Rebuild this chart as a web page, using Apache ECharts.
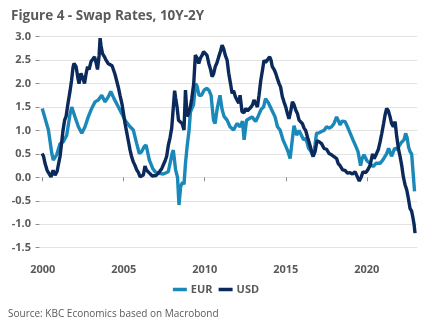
<!DOCTYPE html>
<html>
<head>
<meta charset="utf-8">
<script src="https://cdn.jsdelivr.net/npm/echarts@6/dist/echarts.min.js"></script>
<style>
  html, body { margin: 0; padding: 0; background: #ffffff; }
  #chart { width: 432px; height: 334px; }
</style>
</head>
<body>
<div id="chart"></div>
<script>
// 10Y-2Y swap spread, EUR and USD (percentage points), dated by decimal year
const eurYears = [1999.97,2000.04,2000.35,2000.56,2000.65,2000.86,2001.07,2001.27,2001.48,2001.69,2001.79,2001.99,2002.20,2002.41,2002.61,2002.81,2003.02,2003.23,2003.43,2003.64,2003.85,2004.05,2004.20,2004.40,2004.67,2004.88,2005.08,2005.19,2005.39,2005.59,2005.80,2005.96,2006.11,2006.25,2006.38,2006.58,2006.79,2006.93,2007.14,2007.44,2007.75,2007.86,2007.98,2008.06,2008.20,2008.32,2008.41,2008.51,2008.63,2008.72,2008.81,2008.91,2009.03,2009.12,2009.31,2009.43,2009.52,2009.65,2009.80,2009.96,2010.14,2010.27,2010.39,2010.54,2010.64,2010.76,2010.94,2011.07,2011.19,2011.38,2011.56,2011.78,2011.99,2012.18,2012.33,2012.43,2012.58,2012.73,2012.92,2013.14,2013.29,2013.48,2013.63,2013.75,2013.91,2014.03,2014.19,2014.34,2014.49,2014.65,2014.83,2015.02,2015.14,2015.27,2015.42,2015.51,2015.67,2015.82,2015.94,2016.10,2016.25,2016.41,2016.56,2016.69,2016.81,2016.90,2017.06,2017.21,2017.36,2017.52,2017.67,2017.83,2017.98,2018.14,2018.26,2018.35,2018.48,2018.66,2018.81,2018.97,2019.15,2019.34,2019.46,2019.62,2019.71,2019.83,2020.02,2020.20,2020.39,2020.57,2020.82,2021.01,2021.22,2021.35,2021.53,2021.72,2021.87,2021.99,2022.15,2022.30,2022.40,2022.49,2022.58,2022.67,2022.77,2022.86,2022.95];
const eurValues = [1.47,1.47,1.01,0.51,0.37,0.48,0.72,0.76,0.90,1.36,1.50,1.29,1.08,0.94,1.08,1.29,1.47,1.61,1.65,1.75,1.61,1.72,1.83,1.68,1.50,1.36,1.22,1.26,1.08,1.01,0.72,0.51,0.55,0.65,0.69,0.37,0.19,0.12,0.09,0.07,0.12,0.12,0.50,0.58,0.16,0.00,-0.59,-0.20,-0.10,-0.15,0.30,0.65,1.00,1.40,1.55,2.00,1.95,1.75,1.75,1.86,1.90,1.85,1.75,1.22,1.15,1.45,1.75,1.45,1.30,1.22,1.08,1.01,1.15,1.08,1.20,0.80,1.22,1.25,1.29,1.19,1.30,1.45,1.50,1.68,1.60,1.58,1.40,1.29,1.08,1.01,0.80,0.65,0.55,0.40,0.85,1.10,0.90,1.00,1.04,0.80,0.83,0.62,0.55,0.44,0.70,0.94,0.95,0.98,1.00,1.08,1.05,1.08,1.15,1.29,1.20,1.12,1.20,1.19,1.08,0.95,0.80,0.65,0.55,0.25,0.40,0.48,0.35,0.30,0.23,0.30,0.30,0.38,0.50,0.62,0.45,0.62,0.60,0.58,0.75,0.80,0.94,0.85,0.65,0.55,0.50,0.10,-0.30];

const usdYears = [1999.96,2000.05,2000.14,2000.27,2000.39,2000.51,2000.64,2000.76,2000.88,2000.99,2001.07,2001.16,2001.25,2001.35,2001.44,2001.56,2001.69,2001.78,2001.87,2001.93,2002.06,2002.18,2002.24,2002.36,2002.49,2002.58,2002.67,2002.77,2002.86,2002.98,2003.10,2003.20,2003.29,2003.38,2003.48,2003.54,2003.60,2003.69,2003.81,2003.91,2004.03,2004.15,2004.28,2004.37,2004.46,2004.57,2004.68,2004.77,2004.90,2004.99,2005.08,2005.19,2005.30,2005.39,2005.48,2005.59,2005.70,2005.80,2005.91,2006.01,2006.11,2006.21,2006.31,2006.41,2006.52,2006.62,2006.75,2006.87,2006.99,2007.14,2007.24,2007.35,2007.46,2007.55,2007.65,2007.75,2007.86,2007.96,2008.04,2008.14,2008.20,2008.29,2008.38,2008.48,2008.60,2008.72,2008.81,2008.91,2009.00,2009.11,2009.20,2009.32,2009.42,2009.52,2009.63,2009.74,2009.83,2009.93,2010.04,2010.14,2010.25,2010.36,2010.45,2010.54,2010.65,2010.76,2010.86,2010.98,2011.07,2011.16,2011.27,2011.38,2011.48,2011.59,2011.69,2011.78,2011.89,2011.99,2012.10,2012.18,2012.30,2012.43,2012.53,2012.64,2012.73,2012.86,2012.95,2013.04,2013.14,2013.25,2013.35,2013.46,2013.57,2013.66,2013.75,2013.86,2014.01,2014.09,2014.17,2014.28,2014.38,2014.49,2014.59,2014.68,2014.79,2014.90,2015.00,2015.11,2015.20,2015.30,2015.41,2015.51,2015.62,2015.73,2015.82,2015.91,2016.02,2016.13,2016.23,2016.35,2016.44,2016.56,2016.69,2016.81,2016.93,2017.06,2017.21,2017.36,2017.52,2017.67,2017.83,2017.98,2018.14,2018.23,2018.35,2018.51,2018.66,2018.81,2018.97,2019.12,2019.28,2019.40,2019.54,2019.65,2019.77,2019.93,2020.06,2020.20,2020.36,2020.45,2020.57,2020.72,2020.82,2020.93,2021.04,2021.13,2021.23,2021.33,2021.44,2021.53,2021.64,2021.75,2021.85,2021.96,2022.06,2022.16,2022.26,2022.36,2022.47,2022.57,2022.67,2022.77,2022.84,2022.92,2022.98];
const usdValues = [0.51,0.45,0.30,0.15,0.08,0.01,0.15,0.05,0.12,0.09,0.45,0.72,1.00,1.22,1.30,1.58,1.85,2.07,2.35,2.43,2.36,2.10,2.00,2.22,2.10,2.00,2.20,2.36,2.30,2.47,2.45,2.57,2.45,2.30,2.60,2.97,2.80,2.64,2.57,2.50,2.43,2.47,2.38,2.36,2.20,2.05,1.90,1.75,1.55,1.35,1.15,0.95,0.75,0.58,0.45,0.33,0.25,0.16,0.10,0.01,-0.02,0.05,0.24,0.15,0.12,0.08,0.03,0.00,0.04,0.09,0.12,0.19,0.28,0.35,0.45,0.68,0.85,1.05,1.40,1.85,1.70,1.50,1.22,1.25,1.15,1.01,1.86,1.30,1.36,1.50,1.68,2.00,2.61,2.55,2.43,2.55,2.60,2.68,2.72,2.60,2.43,2.30,2.15,2.20,2.36,2.45,2.57,2.70,2.82,2.75,2.60,2.50,2.22,2.00,1.79,1.85,1.72,1.65,1.58,1.75,1.40,1.38,1.47,1.42,1.40,1.50,1.55,1.65,1.58,1.50,1.75,2.07,2.30,2.50,2.45,2.43,2.57,2.50,2.36,2.30,2.22,2.10,2.00,1.93,1.72,1.60,1.50,1.35,1.25,1.40,1.61,1.55,1.43,1.35,1.22,1.20,1.15,1.05,1.00,0.85,0.75,0.60,0.45,0.55,0.78,0.76,0.72,0.62,0.60,0.51,0.48,0.44,0.40,0.30,0.25,0.16,0.15,0.09,0.10,0.07,0.12,0.14,-0.08,0.00,0.12,0.10,0.16,0.25,0.50,0.40,0.48,0.60,0.75,0.94,1.15,1.33,1.47,1.42,1.29,1.15,1.08,1.19,0.87,0.60,0.44,0.25,0.01,-0.15,-0.27,-0.45,-0.66,-0.72,-0.84,-1.00,-1.19];

const yearTicks = [2000, 2005, 2010, 2015, 2020];
const seriesNames = ['EUR', 'USD'];
const seriesColors = ['#1a89b9', '#0b2a5b'];

const zip = (xs, ys) => xs.map((x, i) => [x, ys[i]]);

const chart = echarts.init(document.getElementById('chart'), null, { renderer: 'canvas' });
const labelGray = '#5a5a5a';
const fontFamily = '"Open Sans", "Noto Sans", sans-serif';

chart.setOption({
  animation: false,
  backgroundColor: '#ffffff',
  title: {
    text: 'Figure 4 - Swap Rates, 10Y-2Y',
    left: 6,
    top: 4,
    textStyle: { fontFamily, fontSize: 13.5, fontWeight: 'bold', color: labelGray }
  },
  graphic: [{
    type: 'text',
    left: 8,
    top: 309,
    style: {
      text: 'Source: KBC Economics based on Macrobond',
      fontFamily, fontSize: 10, fill: labelGray
    }
  }],
  legend: {
    data: seriesNames,
    left: 'center',
    top: 279,
    icon: 'rect',
    itemWidth: 14,
    itemHeight: 3.5,
    itemGap: 6,
    textStyle: { fontFamily, fontSize: 11, fontWeight: 'bold', color: labelGray, padding: [0, 0, 0, -1] }
  },
  grid: { left: 39.5, right: 14.7, top: 36.7, bottom: 86.3 },
  xAxis: {
    type: 'value',
    min: 1999.8,
    max: 2023.12,
    offset: 7,
    axisLine: { show: false },
    axisTick: { show: true, length: 4, customValues: yearTicks, lineStyle: { color: '#8c8c8c' } },
    axisLabel: {
      customValues: yearTicks,
      margin: 10,
      fontFamily, fontSize: 11, fontWeight: 'bold', color: labelGray,
      formatter: v => String(Math.round(v))
    },
    splitLine: { show: false }
  },
  yAxis: {
    type: 'value',
    min: -1.5,
    max: 3.0,
    interval: 0.5,
    axisLine: { show: false },
    axisTick: { show: true, length: 4, lineStyle: { color: '#8c8c8c' } },
    axisLabel: {
      margin: 8.5,
      fontFamily, fontSize: 11, fontWeight: 'bold', color: labelGray,
      formatter: v => v.toFixed(1)
    },
    splitLine: { lineStyle: { color: '#e3e3e3', width: 1 } }
  },
  series: [
    {
      name: seriesNames[0], type: 'line', data: zip(eurYears, eurValues),
      showSymbol: false, color: seriesColors[0],
      lineStyle: { width: 3.4, color: seriesColors[0] }
    },
    {
      name: seriesNames[1], type: 'line', data: zip(usdYears, usdValues),
      showSymbol: false, color: seriesColors[1],
      lineStyle: { width: 3.4, color: seriesColors[1] }
    }
  ]
});
</script>
</body>
</html>
